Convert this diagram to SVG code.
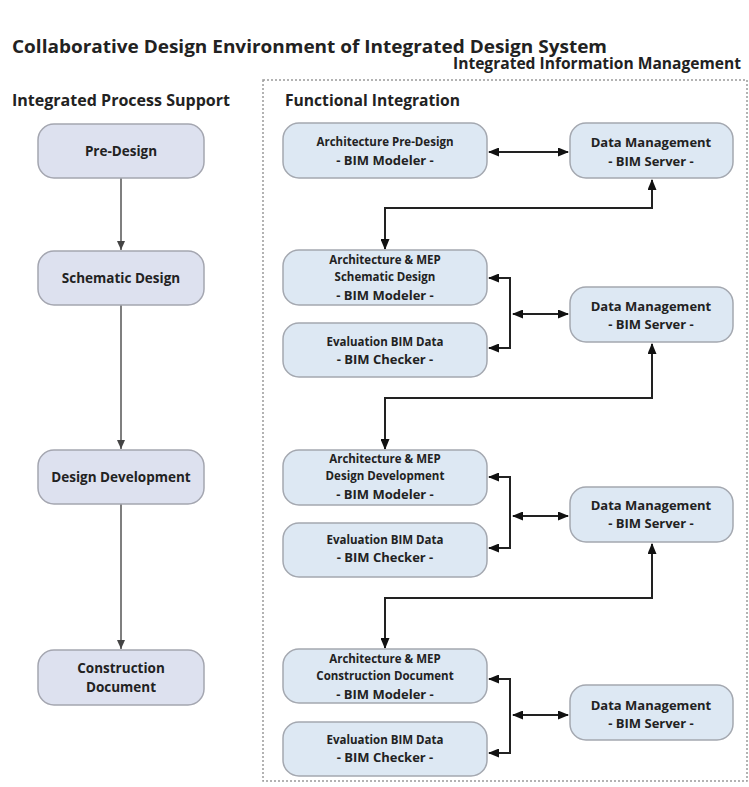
<svg xmlns="http://www.w3.org/2000/svg" width="749" height="787" viewBox="0 0 749 787">
<style>
text{font-family:"Open Sans","Noto Sans","Liberation Sans",sans-serif;font-weight:bold;fill:#222}
.h{font-size:16px}
.lb rect{fill:#dde1ef;stroke:#a4a6b0;stroke-width:1.5}
.rb rect{fill:#dde8f3;stroke:#a4a8b0;stroke-width:1.5}
.lt{font-size:13.5px;text-anchor:middle}
.s{font-size:11.5px;text-anchor:middle}
.m{font-size:13px;text-anchor:middle}
.cr{fill:none;stroke:#222;stroke-width:2}
.cl{fill:none;stroke:#555;stroke-width:1.5}
</style>
<defs>
<marker id="ah" markerUnits="userSpaceOnUse" markerWidth="11" markerHeight="9" refX="10" refY="4.5" orient="auto-start-reverse"><path d="M0,0 L11,4.5 L0,9 z" fill="#111"/></marker>
<marker id="al" markerUnits="userSpaceOnUse" markerWidth="9" markerHeight="8" refX="9" refY="4" orient="auto"><path d="M0,0 L9,4 L0,8 z" fill="#444"/></marker>
</defs>
<text x="12" y="53" class="h" style="font-size:17px" textLength="595" lengthAdjust="spacingAndGlyphs">Collaborative Design Environment of Integrated Design System</text>
<text x="453" y="69" class="h" textLength="288" lengthAdjust="spacingAndGlyphs">Integrated Information Management</text>
<text x="12" y="106" class="h" textLength="218" lengthAdjust="spacingAndGlyphs">Integrated Process Support</text>
<text x="285" y="106" class="h" textLength="175" lengthAdjust="spacingAndGlyphs">Functional Integration</text>
<rect x="263" y="80" width="484" height="701" fill="none" stroke="#9a9a9a" stroke-width="1.5" stroke-dasharray="2,2"/>
<g id="connectors">
<path class="cl" d="M121,178 V250" marker-end="url(#al)"/>
<path class="cl" d="M121,305 V449" marker-end="url(#al)"/>
<path class="cl" d="M121,504 V649" marker-end="url(#al)"/>
<path class="cr" d="M489,152 H568" marker-start="url(#ah)" marker-end="url(#ah)"/>
<path class="cr" d="M652,180 V208 H385 V249" marker-start="url(#ah)" marker-end="url(#ah)"/>
<path class="cr" d="M489,278 H510 V348 H489" marker-start="url(#ah)" marker-end="url(#ah)"/>
<path class="cr" d="M513,314 H568" marker-start="url(#ah)" marker-end="url(#ah)"/>
<path class="cr" d="M652,344 V398 H385 V449" marker-start="url(#ah)" marker-end="url(#ah)"/>
<path class="cr" d="M489,477 H510 V548 H489" marker-start="url(#ah)" marker-end="url(#ah)"/>
<path class="cr" d="M513,516 H568" marker-start="url(#ah)" marker-end="url(#ah)"/>
<path class="cr" d="M652,544 V598 H385 V648" marker-start="url(#ah)" marker-end="url(#ah)"/>
<path class="cr" d="M489,679 H510 V753 H489" marker-start="url(#ah)" marker-end="url(#ah)"/>
<path class="cr" d="M513,715 H568" marker-start="url(#ah)" marker-end="url(#ah)"/>
</g>
<g id="pre-design" class="lb"><rect x="38" y="124" width="166" height="54" rx="16"/><text class="lt" x="121" y="156">Pre-Design</text></g>
<g id="schematic-design" class="lb"><rect x="38" y="251" width="166" height="54" rx="16"/><text class="lt" x="121" y="283">Schematic Design</text></g>
<g id="design-development" class="lb"><rect x="38" y="450" width="166" height="54" rx="16"/><text class="lt" x="121" y="482">Design Development</text></g>
<g id="construction-document" class="lb"><rect x="38" y="650" width="166" height="55" rx="16"/><text class="lt" x="121" y="673">Construction</text><text class="lt" x="121" y="692">Document</text></g>

<g id="arch-pre-design" class="rb"><rect x="283" y="123" width="204" height="55" rx="16"/><text class="s" x="385" y="146">Architecture Pre-Design</text><text class="m" x="385" y="165">- BIM Modeler -</text></g>
<g id="dm1" class="rb"><rect x="570" y="123" width="163" height="55" rx="16"/><text class="m" x="651" y="147">Data Management</text><text class="m" x="651" y="166">- BIM Server -</text></g>

<g id="arch-mep-sd" class="rb"><rect x="283" y="250" width="204" height="55" rx="16"/><text class="s" x="385" y="264">Architecture &amp; MEP</text><text class="s" x="385" y="281">Schematic Design</text><text class="m" x="385" y="300">- BIM Modeler -</text></g>
<g id="eval-sd" class="rb"><rect x="283" y="323" width="204" height="54" rx="16"/><text class="s" x="385" y="346">Evaluation BIM Data</text><text class="m" x="385" y="364">- BIM Checker -</text></g>
<g id="dm2" class="rb"><rect x="570" y="287" width="163" height="55" rx="16"/><text class="m" x="651" y="311">Data Management</text><text class="m" x="651" y="329">- BIM Server -</text></g>

<g id="arch-mep-dd" class="rb"><rect x="283" y="450" width="204" height="55" rx="16"/><text class="s" x="385" y="463">Architecture &amp; MEP</text><text class="s" x="385" y="480">Design Development</text><text class="m" x="385" y="499">- BIM Modeler -</text></g>
<g id="eval-dd" class="rb"><rect x="283" y="523" width="204" height="54" rx="16"/><text class="s" x="385" y="544">Evaluation BIM Data</text><text class="m" x="385" y="562">- BIM Checker -</text></g>
<g id="dm3" class="rb"><rect x="570" y="487" width="163" height="55" rx="16"/><text class="m" x="651" y="510">Data Management</text><text class="m" x="651" y="528">- BIM Server -</text></g>

<g id="arch-mep-cd" class="rb"><rect x="283" y="649" width="204" height="54" rx="16"/><text class="s" x="385" y="663">Architecture &amp; MEP</text><text class="s" x="385" y="680">Construction Document</text><text class="m" x="385" y="699">- BIM Modeler -</text></g>
<g id="eval-cd" class="rb"><rect x="283" y="722" width="204" height="54" rx="16"/><text class="s" x="385" y="744">Evaluation BIM Data</text><text class="m" x="385" y="762">- BIM Checker -</text></g>
<g id="dm4" class="rb"><rect x="570" y="685" width="163" height="55" rx="16"/><text class="m" x="651" y="710">Data Management</text><text class="m" x="651" y="728">- BIM Server -</text></g>
</svg>
